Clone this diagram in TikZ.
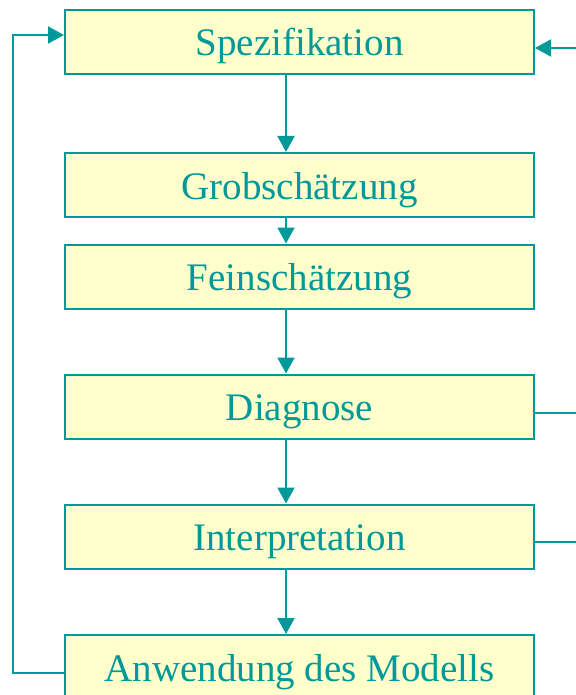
\documentclass[tikz,border=0pt]{standalone}
\usepackage{fontspec}
\setmainfont{Liberation Serif}
\usetikzlibrary{arrows.meta}
\definecolor{teal1}{HTML}{009999}
\definecolor{boxfill}{HTML}{FFFFCC}
\begin{document}
\begin{tikzpicture}[x=1pt,y=1pt,
  box/.style={draw=teal1, fill=boxfill, line width=2pt, minimum width=469pt, minimum height=64pt, inner sep=0pt, text height=28pt, text depth=0pt, text=teal1, font=\fontsize{39}{44}\selectfont},
  conn/.style={draw=teal1, line width=2pt},
  arr/.style={conn, -{Triangle[length=16pt,width=17pt]}}]
\useasboundingbox (0,0) rectangle (575,-695);
\node[box] (spez) at (299.5,-42) {Spezifikation};
\node[box] (grob) at (299.5,-185) {Grobschätzung};
\node[box] (fein) at (299.5,-276.5) {Feinschätzung};
\node[box] (diag) at (299.5,-406.5) {Diagnose};
\node[box] (interp) at (299.5,-536.5) {Interpretation};
\node[box] (anw) at (299.5,-667) {Anwendung des Modells};
\draw[arr] ([xshift=-13.5pt]spez.south) -- ([xshift=-13.5pt]grob.north);
\draw[arr] ([xshift=-13.5pt]grob.south) -- ([xshift=-13.5pt]fein.north);
\draw[arr] ([xshift=-13.5pt]fein.south) -- ([xshift=-13.5pt]diag.north);
\draw[arr] ([xshift=-13.5pt]diag.south) -- ([xshift=-13.5pt]interp.north);
\draw[arr] ([xshift=-13.5pt]interp.south) -- ([xshift=-13.5pt]anw.north);
\coordinate (lx) at (13,0);
\draw[arr] ([yshift=-6pt]anw.west) -- ([yshift=-6pt]anw.west -| lx) -- ([yshift=7pt]spez.west -| lx) -- ([yshift=7pt]spez.west);
\coordinate (rx) at (576,0);
\draw[arr] ([yshift=-6pt]spez.east -| rx) -- ([yshift=-6pt]spez.east);
\draw[conn] ([yshift=-6.5pt]diag.east) -- ([yshift=-6.5pt]diag.east -| rx);
\draw[conn] ([yshift=-5.5pt]interp.east) -- ([yshift=-5.5pt]interp.east -| rx);
\end{tikzpicture}
\end{document}
